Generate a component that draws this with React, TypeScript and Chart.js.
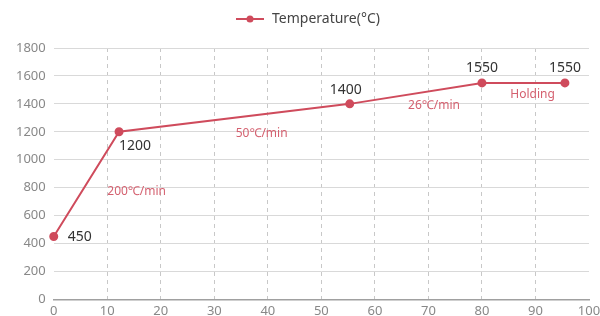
import { useEffect, useRef } from "react";
import { Chart, registerables } from "chart.js";

Chart.register(...registerables);

// Heating profile: time (min) vs furnace temperature
const timeMinutes = [0, 12.2, 55.3, 80, 95.5];
const temperatures = [450, 1200, 1400, 1550, 1550];
const pointLabels = ["450", "1200", "1400", "1550", "1550"];

// Stage annotations anchored in data coordinates (time, temperature)
const stageTexts = ["200℃/min", "50℃/min", "26℃/min", "Holding"];
const stageTimes = [10, 34, 66.2, 85.3];
const stageTemps = [770, 1188, 1390, 1469];

const LINE_COLOR = "#cf4b5c";
const NOTE_COLOR = "#d4606f";
const FONT = "'Noto Sans', 'Open Sans', sans-serif";

function makeLegendIcon(): HTMLCanvasElement {
  const c = document.createElement("canvas");
  c.width = 28;
  c.height = 10;
  const g = c.getContext("2d")!;
  g.strokeStyle = LINE_COLOR;
  g.lineWidth = 2;
  g.beginPath();
  g.moveTo(0, 5);
  g.lineTo(28, 5);
  g.stroke();
  g.fillStyle = LINE_COLOR;
  g.beginPath();
  g.arc(14, 5, 3.5, 0, Math.PI * 2);
  g.fill();
  return c;
}

// extra room between the legend and the plot, and a small rightward nudge
const legendTweak = {
  id: "legendTweak",
  beforeInit(chart: any) {
    const fit = chart.legend.fit;
    chart.legend.fit = function () {
      fit.bind(chart.legend)();
      this.height += 12;
    };
  },
  afterLayout(chart: any) {
    chart.legend.left += 5;
    chart.legend.right += 5;
  },
};

const textPlugin = {
  id: "profileText",
  afterDatasetsDraw(chart: any) {
    const { ctx, scales } = chart;
    const xs = scales.x;
    const ys = scales.y;
    ctx.save();
    ctx.textBaseline = "middle";

    // value labels next to each point
    ctx.font = `14px ${FONT}`;
    ctx.fillStyle = "#333333";
    const offsets = [
      { dx: 14, dy: 0, align: "left" },
      { dx: 0, dy: 14, align: "left" },
      { dx: -4, dy: -14, align: "center" },
      { dx: 0, dy: -15, align: "center" },
      { dx: 0, dy: -15, align: "center" },
    ];
    timeMinutes.forEach((t, i) => {
      const px = xs.getPixelForValue(t);
      const py = ys.getPixelForValue(temperatures[i]);
      const o = offsets[i];
      ctx.textAlign = o.align;
      ctx.fillText(pointLabels[i], px + o.dx, py + o.dy);
    });

    // stage annotations
    ctx.font = `12px ${FONT}`;
    ctx.fillStyle = NOTE_COLOR;
    ctx.textAlign = "left";
    stageTexts.forEach((s, i) => {
      ctx.fillText(s, xs.getPixelForValue(stageTimes[i]), ys.getPixelForValue(stageTemps[i]));
    });
    ctx.restore();
  },
};

export default function App() {
  const canvasRef = useRef<HTMLCanvasElement>(null);

  useEffect(() => {
    const icon = makeLegendIcon();
    const chart = new Chart(canvasRef.current!, {
      type: "line",
      data: {
        datasets: [
          {
            label: "Temperature(°C)",
            data: timeMinutes.map((t, i) => ({ x: t, y: temperatures[i] })),
            borderColor: LINE_COLOR,
            backgroundColor: LINE_COLOR,
            borderWidth: 2,
            pointRadius: 3.5,
            pointHoverRadius: 3.5,
            tension: 0,
            clip: false,
          },
        ],
      },
      options: {
        animation: false,
        responsive: false,
        layout: { padding: { top: 0, right: 3, left: 8, bottom: -7 } },
        plugins: {
          tooltip: { enabled: false },
          legend: {
            display: true,
            position: "top",
            labels: {
              usePointStyle: true,
              pointStyleWidth: 30,
              boxHeight: 10,
              font: { family: FONT, size: 14 },
              color: "#444444",
              padding: 12,
              generateLabels: (ch: any) =>
                ch.data.datasets.map((d: any, i: number) => ({
                  text: d.label,
                  pointStyle: icon,
                  fillStyle: LINE_COLOR,
                  strokeStyle: LINE_COLOR,
                  lineWidth: 0,
                  datasetIndex: i,
                  hidden: false,
                  fontColor: "#444444",
                })),
            },
          },
        },
        scales: {
          x: {
            type: "linear",
            min: 0,
            max: 100,
            afterFit: (scale: any) => {
              scale.paddingRight = 11;
            },
            ticks: {
              stepSize: 10,
              color: "#888888",
              font: { family: FONT, size: 13 },
              padding: 4,
            },
            grid: {
              color: (c: any) => (c.tick && (c.tick.value === 0 || c.tick.value === 100) ? "rgba(0,0,0,0)" : "#c8c8c8"),
              drawTicks: false,
            },
            border: { display: true, color: "#a0a0a0", width: 1.5, dash: [4, 4] },
          },
          y: {
            min: 0,
            max: 1800,
            ticks: {
              stepSize: 200,
              color: "#888888",
              font: { family: FONT, size: 13 },
              padding: 8,
              callback: (v: any) => String(v),
            },
            grid: { color: "#d9d9d9", drawTicks: false, lineWidth: 1 },
            border: { display: false },
          },
        },
      },
      plugins: [legendTweak, textPlugin],
    });
    return () => chart.destroy();
  }, []);

  return (
    <div style={{ position: "fixed", left: 0, top: 0, width: 600, height: 316, background: "#fff" }}>
      <canvas ref={canvasRef} width={600} height={316} />
    </div>
  );
}
